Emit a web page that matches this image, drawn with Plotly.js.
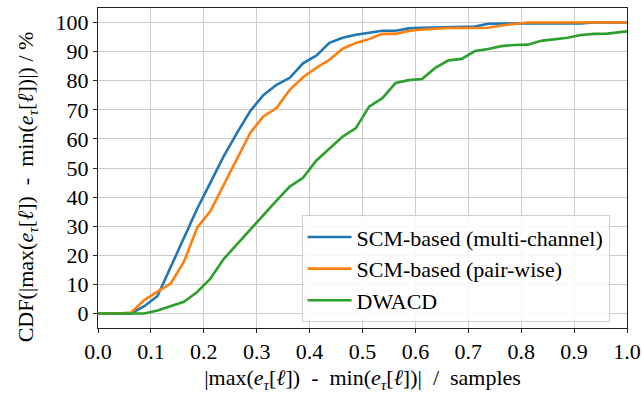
<!DOCTYPE html>
<html>
<head>
<meta charset="utf-8">
<script src="https://cdn.plot.ly/plotly-3.0.1.min.js"></script>
<style>html,body{margin:0;padding:0;background:#fff;}#chart{width:644px;height:394px;}</style>
</head>
<body>
<div id="chart"></div>
<script>
const xValues = [-0.0125, 0.0125, 0.0375, 0.0625, 0.0875, 0.1125, 0.1375, 0.1625, 0.1875, 0.2125,
  0.2375, 0.2625, 0.2875, 0.3125, 0.3375, 0.3625, 0.3875, 0.4125, 0.4375, 0.4625,
  0.4875, 0.5125, 0.5375, 0.5625, 0.5875, 0.6125, 0.6375, 0.6625, 0.6875, 0.7125,
  0.7375, 0.7625, 0.7875, 0.8125, 0.8375, 0.8625, 0.8875, 0.9125, 0.9375, 0.9625,
  0.9875, 1.0125];

const scmMulti = [0, 0, 0, 0, 2.5, 6, 16, 26, 36, 45,
  54, 62, 69.5, 75, 78.6, 81, 86, 88.6, 93, 94.8,
  95.8, 96.5, 97.2, 97.2, 98, 98.2, 98.3, 98.6, 98.6, 98.6,
  99.6, 99.7, 99.7, 99.7, 99.7, 99.7, 99.7, 99.7, 100, 100,
  100, 100];

const scmPair = [0, 0, 0, 0.3, 4.6, 7.5, 10.3, 17.8, 29.5, 35.2,
  44, 53, 62, 67.7, 70.6, 76.9, 81.2, 84.4, 87.2, 91,
  93, 94.3, 96.1, 96.1, 97.1, 97.6, 97.9, 98.1, 98.1, 98.1,
  98.2, 99, 99.6, 100, 100, 100, 100, 100, 100, 100,
  100, 100];

const dwacd = [0, 0, 0, 0, 0, 1, 2.4, 4, 7.4, 12,
  18.7, 23.8, 28.8, 33.8, 38.8, 43.6, 46.6, 52.5, 56.8, 60.8,
  63.7, 71.1, 74, 79.2, 80.2, 80.6, 84.4, 87, 87.5, 90.2,
  90.9, 91.9, 92.3, 92.4, 93.7, 94.2, 94.8, 95.7, 96.1, 96.2,
  96.7, 97.2];

const seriesNames = ['SCM-based (multi-channel)', 'SCM-based (pair-wise)', 'DWACD'];
const xTickVals = [0, 0.1, 0.2, 0.3, 0.4, 0.5, 0.6, 0.7, 0.8, 0.9, 1.0];
const xTickText = ['0.0', '0.1', '0.2', '0.3', '0.4', '0.5', '0.6', '0.7', '0.8', '0.9', '1.0'];
const yTickVals = [0, 10, 20, 30, 40, 50, 60, 70, 80, 90, 100];
const xTitle = '|max(<i>e</i><sub><i>τ</i></sub>[<i>ℓ</i>])\u00a0\u00a0-\u00a0\u00a0min(<i>e</i><sub><i>τ</i></sub>[<i>ℓ</i>])|\u00a0\u00a0/\u00a0\u00a0samples';
const yTitle = 'CDF(|max(<i>e</i><sub><i>τ</i></sub>[<i>ℓ</i>])\u00a0\u00a0-\u00a0\u00a0min(<i>e</i><sub><i>τ</i></sub>[<i>ℓ</i>])|)\u00a0/\u00a0%';

const colors = ['#1f77b4', '#ff7f0e', '#2ca02c'];
const font = 'Liberation Serif';
const fs = 22;

const traces = [scmMulti, scmPair, dwacd].map((ys, i) => ({
  x: xValues, y: ys, type: 'scatter', mode: 'lines', name: seriesNames[i],
  line: {color: colors[i], width: 2.6}
}));

const axisCommon = {
  showline: true, mirror: true, linecolor: '#222', linewidth: 1,
  ticks: 'outside', ticklen: 4, tickwidth: 1, tickcolor: '#222',
  showgrid: true, gridcolor: '#cccccc', gridwidth: 1, zeroline: false,
  tickfont: {family: font, size: fs, color: '#000'}
};

const layout = {
  width: 644, height: 394,
  margin: {l: 98, r: 17, t: 8, b: 66},
  paper_bgcolor: '#fff', plot_bgcolor: '#fff',
  font: {family: font, size: fs, color: '#000'},
  showlegend: true,
  xaxis: Object.assign({}, axisCommon, {
    range: [0, 1], tickvals: xTickVals, ticktext: xTickText,
    title: {text: xTitle, font: {family: font, size: fs}, standoff: 6}
  }),
  yaxis: Object.assign({}, axisCommon, {
    range: [-5, 105], tickvals: yTickVals
  }),
  annotations: [{
    text: yTitle, textangle: -90, xref: 'paper', yref: 'paper',
    x: -0.134, y: 0.44, xanchor: 'center', yanchor: 'middle', showarrow: false,
    font: {family: font, size: fs, color: '#000'}
  }],
  legend: {
    x: 0.967, y: 0.018, xanchor: 'right', yanchor: 'bottom', itemwidth: 44,
    bgcolor: 'rgba(255,255,255,0.85)', bordercolor: '#d0d0d0', borderwidth: 1,
    font: {family: font, size: fs, color: '#000'}
  }
};

Plotly.newPlot('chart', traces, layout, {displayModeBar: false, staticPlot: true});
</script>
</body>
</html>
